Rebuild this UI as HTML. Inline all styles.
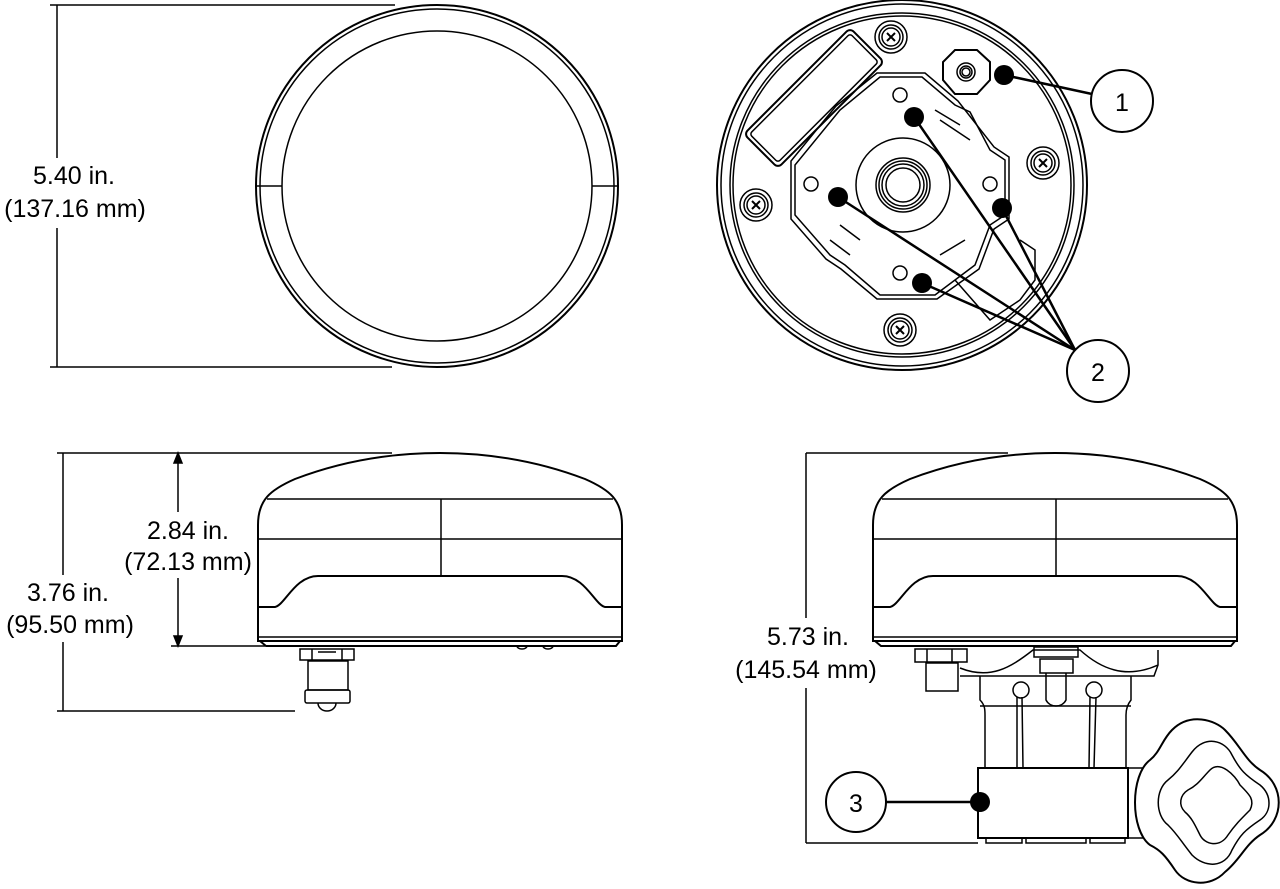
<!DOCTYPE html>
<html><head><meta charset="utf-8"><style>
html,body{margin:0;padding:0;background:#fff;}
svg{display:block;}
text{font-family:"Liberation Sans",Arial,sans-serif;font-size:25px;fill:#000;text-anchor:middle;}
</style></head><body>
<svg width="1280" height="889" viewBox="0 0 1280 889" xmlns="http://www.w3.org/2000/svg" fill="none" stroke="#000" stroke-width="1.5">
<defs>
<g id="dome">
<path d="M0,641 L0,525 C0,500 12,490 37,479 C92,458 142,453 182,453 C222,453 272,458 327,479 C352,490 364,500 364,525 L364,641 Z" fill="#fff" stroke-width="2"/>
<line x1="9" y1="499" x2="355" y2="499"/>
<line x1="0" y1="539" x2="364" y2="539"/>
<line x1="183" y1="499" x2="183" y2="575"/>
<path d="M0,607 L17,607 C27,605 37,576 60,576 L304,576 C327,576 337,605 347,607 L364,607" stroke-width="2"/>
<line x1="0" y1="637" x2="364" y2="637"/>
<path d="M2,641 L8,646 L358,646 L362,641" stroke-width="2"/>
</g>
<g id="screw">
<circle r="16"/><circle r="12"/><circle r="9"/>
<path d="M-4,-4 L4,4 M-4,4 L4,-4" stroke-width="2"/>
</g>
</defs>

<!-- Top-left view -->
<circle cx="437" cy="186" r="181" stroke-width="2"/>
<circle cx="437" cy="186" r="177"/>
<circle cx="437" cy="186" r="155"/>
<line x1="256" y1="186" x2="282" y2="186"/>
<line x1="592" y1="186" x2="618" y2="186"/>
<line x1="57" y1="5" x2="57" y2="158"/>
<line x1="57" y1="228" x2="57" y2="367"/>
<line x1="50" y1="5" x2="395" y2="5"/>
<line x1="50" y1="367" x2="392" y2="367"/>
<text x="74" y="184" stroke="none">5.40 in.</text>
<text x="75" y="217" stroke="none">(137.16 mm)</text>

<!-- Top-right view -->
<circle cx="902" cy="185" r="185" stroke-width="2"/>
<circle cx="902" cy="185" r="181"/>
<circle cx="902" cy="185" r="172"/>
<circle cx="902" cy="185" r="169"/>
<g transform="translate(814,98) rotate(-45)">
<rect x="-75" y="-24" width="150" height="48" rx="5" stroke-width="2"/>
<rect x="-71" y="-20" width="142" height="40" rx="3"/>
</g>
<path d="M880,77 L922,77 L955,105 L970,112 L990,150 L1005,160 L1005,215 L990,225 L975,265 L935,295 L880,295 L845,265 L830,255 L795,215 L795,165 L840,110 Z" stroke-width="1.5"/>
<path d="M877,73 L925,73 L958,101 L994,147 L1009,157 L1009,219 L994,229 L979,269 L937,299 L877,299 L841,269 L826,259 L791,219 L791,161 L836,106 Z"/>
<path d="M935,110 L960,125 M940,120 L970,140 M940,255 L965,240 M830,240 L850,255 M840,225 L860,240" />
<path d="M955,280 L990,320 L1020,300 L1035,280 L1035,250 L1020,240" />
<circle cx="903" cy="185" r="47"/>
<circle cx="903" cy="185" r="27"/><circle cx="903" cy="185" r="24"/><circle cx="903" cy="185" r="21"/><circle cx="903" cy="185" r="17"/>
<circle cx="900" cy="95" r="7"/><circle cx="811" cy="184" r="7"/><circle cx="990" cy="184" r="7"/><circle cx="900" cy="273" r="7"/>
<use href="#screw" x="891" y="37"/>
<use href="#screw" x="1043" y="163"/>
<use href="#screw" x="756" y="205"/>
<use href="#screw" x="900" y="330"/>
<path d="M955,50 L977,50 L990,62 L990,80 L977,94 L955,94 L943,80 L943,62 Z" stroke-width="2"/>
<circle cx="966" cy="72" r="9"/><circle cx="966" cy="72" r="6"/><circle cx="966" cy="72" r="4"/>
<g fill="#000" stroke="none">
<circle cx="1004" cy="75" r="10"/>
<circle cx="914" cy="117" r="10"/>
<circle cx="838" cy="197" r="10"/>
<circle cx="1002" cy="208" r="10"/>
<circle cx="922" cy="283" r="10"/>
<circle cx="980" cy="802" r="10"/>
</g>
<g stroke-width="2.5">
<line x1="1004" y1="75" x2="1092" y2="94"/>
<line x1="914" y1="117" x2="1075" y2="350"/>
<line x1="838" y1="197" x2="1075" y2="350"/>
<line x1="1002" y1="208" x2="1075" y2="350"/>
<line x1="922" y1="283" x2="1075" y2="350"/>
<line x1="886" y1="802" x2="980" y2="802"/>
</g>
<circle cx="1122" cy="101" r="31" stroke-width="2" fill="#fff"/>
<circle cx="1098" cy="371" r="31" stroke-width="2" fill="#fff"/>
<circle cx="856" cy="802" r="30" stroke-width="2" fill="#fff"/>
<g stroke="none" style="font-size:28px">
<text x="1122" y="111">1</text>
<text x="1098" y="381">2</text>
<text x="856" y="812">3</text>
</g>

<!-- Bottom-left view -->
<use href="#dome" x="258" y="0"/>
<path d="M300,649 L354,649 L354,660 L300,660 Z M312,649 L312,660 M342,649 L342,660 M318,652 L336,652"/>
<rect x="308" y="661" width="40" height="29"/>
<rect x="305" y="690" width="45" height="13" rx="2"/>
<path d="M318,703 A9,8 0 0 0 336,703"/>
<path d="M517,646 A5,3 0 0 0 527,646 M543,646 A5,3 0 0 0 553,646"/>
<line x1="63" y1="453" x2="63" y2="575"/>
<line x1="63" y1="642" x2="63" y2="711"/>
<line x1="57" y1="453" x2="392" y2="453"/>
<line x1="57" y1="711" x2="295" y2="711"/>
<line x1="178" y1="455" x2="178" y2="512"/>
<line x1="178" y1="578" x2="178" y2="646"/>
<path d="M174,463 L178,453 L182,463 Z M174,636 L178,646 L182,636 Z" fill="#000"/>
<line x1="171" y1="646" x2="265" y2="646"/>
<text x="188" y="539" stroke="none">2.84 in.</text>
<text x="188" y="570" stroke="none">(72.13 mm)</text>
<text x="68" y="601" stroke="none">3.76 in.</text>
<text x="70" y="633" stroke="none">(95.50 mm)</text>

<!-- Bottom-right view -->
<use href="#dome" x="873" y="0"/>
<line x1="806" y1="453" x2="1008" y2="453"/>
<line x1="806" y1="453" x2="806" y2="618"/>
<line x1="806" y1="688" x2="806" y2="843"/>
<line x1="806" y1="843" x2="978" y2="843"/>
<text x="808" y="645" stroke="none">5.73 in.</text>
<text x="806" y="678" stroke="none">(145.54 mm)</text>
<!-- mount -->
<path d="M915,649 L967,649 L967,662 L915,662 Z M927,649 L927,662 M952,649 L952,662"/>
<rect x="926" y="663" width="32" height="28"/>
<path d="M960,668 C990,680 1010,668 1033,650 L1080,650 C1100,668 1125,680 1158,665 L1158,650 M1158,665 L1154,676 L960,676"/>
<rect x="1034" y="647" width="44" height="10"/>
<rect x="1040" y="659" width="33" height="14"/>
<path d="M1046,673 L1046,700 C1050,708 1062,708 1066,700 L1066,673"/>
<path d="M980,676 L980,700 C985,705 985,710 985,715 L985,768 M1131,676 L1131,700 C1127,705 1126,710 1126,715 L1126,768"/>
<line x1="980" y1="706" x2="1131" y2="706"/>
<circle cx="1021" cy="690" r="8"/><circle cx="1094" cy="690" r="8"/>
<path d="M1017,697 L1017,768 M1022,697 L1023,768 M1090,697 L1089,768 M1096,697 L1094,768"/>
<rect x="978" y="768" width="150" height="70" stroke-width="2"/>
<path d="M986,838 L986,843 L1022,843 L1022,838 M1026,838 L1026,843 L1086,843 L1086,838 M1090,838 L1090,843 L1125,843 L1125,838"/>
<line x1="1128" y1="768" x2="1150" y2="768"/>
<line x1="1128" y1="838" x2="1150" y2="838"/>
<path d="M1172,730 C1190,712 1215,720 1225,730 C1240,745 1245,760 1260,770 C1285,785 1285,820 1260,835 C1245,845 1240,860 1225,872 C1210,888 1185,885 1175,870 C1165,855 1160,850 1150,845 C1130,830 1130,775 1150,760 C1160,752 1162,740 1172,730 Z" stroke-width="2" fill="#fff"/>
<path d="M1192,752 C1205,735 1225,740 1232,755 C1240,770 1245,775 1260,785 C1272,795 1272,812 1260,820 C1245,830 1240,835 1232,850 C1225,868 1205,868 1192,855 C1180,840 1178,835 1168,825 C1155,815 1155,790 1168,780 C1178,772 1182,765 1192,752 Z"/>
<path d="M1210,770 C1220,760 1235,775 1240,785 C1250,795 1255,800 1250,810 C1240,820 1235,825 1228,835 C1220,848 1205,845 1200,835 C1195,825 1192,818 1185,812 C1178,805 1180,795 1188,790 C1198,785 1202,778 1210,770 Z"/>
</svg>
</body></html>
